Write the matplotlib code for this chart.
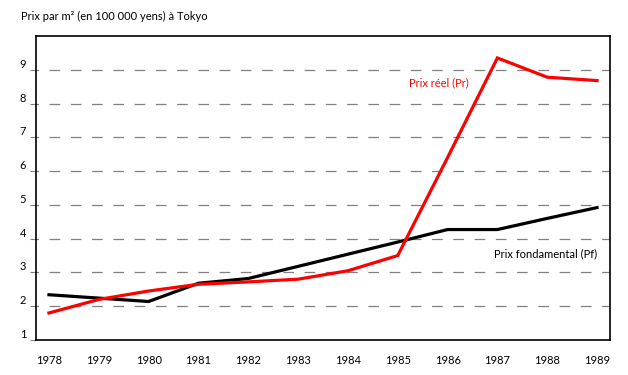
import matplotlib.pyplot as plt

plt.rcParams['font.family'] = ['Lato', 'DejaVu Sans']

# data
years = [1978, 1979, 1980, 1981, 1982, 1983, 1984, 1985, 1986, 1987, 1988, 1989]
prix_reel = [1.8, 2.2, 2.45, 2.65, 2.72, 2.8, 3.05, 3.5, 6.4, 9.35, 8.78, 8.68]
prix_fondamental = [2.34, 2.24, 2.14, 2.68, 2.82, 3.18, 3.54, 3.9, 4.27, 4.27, 4.6, 4.92]
y_ticks = [1, 2, 3, 4, 5, 6, 7, 8, 9]

fig = plt.figure(figsize=(6.28, 3.75), dpi=100)
ax = fig.add_axes([36 / 628, 1 - 340 / 375, 574 / 628, 304 / 375])

# dashed horizontal guides, starting with a small gap after the spine
for y in y_ticks[1:]:
    ax.axhline(y, color='#808080', lw=0.9, linestyle=(6.5, (8.5, 8.5)), zorder=1)

ax.plot(years, prix_fondamental, color='black', lw=2.3, solid_joinstyle='miter', zorder=3)
ax.plot(years, prix_reel, color='#ff0000', lw=2.3, solid_joinstyle='miter', zorder=4)

ax.set_xlim(1977.74, 1989.26)
ax.set_ylim(1, 10)

ax.set_xticks(years)
ax.set_xticklabels([str(y) for y in years], fontsize=8)
ax.tick_params(axis='x', length=0, pad=11)

ax.set_yticks(y_ticks)
ax.set_yticklabels([str(y) for y in y_ticks], fontsize=8, va='bottom')
ax.tick_params(axis='y', length=4, width=0.8, color='#808080', pad=3)

for s in ax.spines.values():
    s.set_linewidth(1.2)
    s.set_color('black')

fig.text(21 / 628, 1 - 20 / 375, 'Prix par m² (en 100 000 yens) à Tokyo',
         fontsize=8, ha='left', va='baseline')
ax.text(1985.23, 8.62, 'Prix réel (Pr)', color='#ff0000', fontsize=8, ha='left', va='center')
ax.text(1989.0, 3.54, 'Prix fondamental (Pf)', color='black', fontsize=8, ha='right', va='center')

fig.savefig('out.png', dpi=100)
